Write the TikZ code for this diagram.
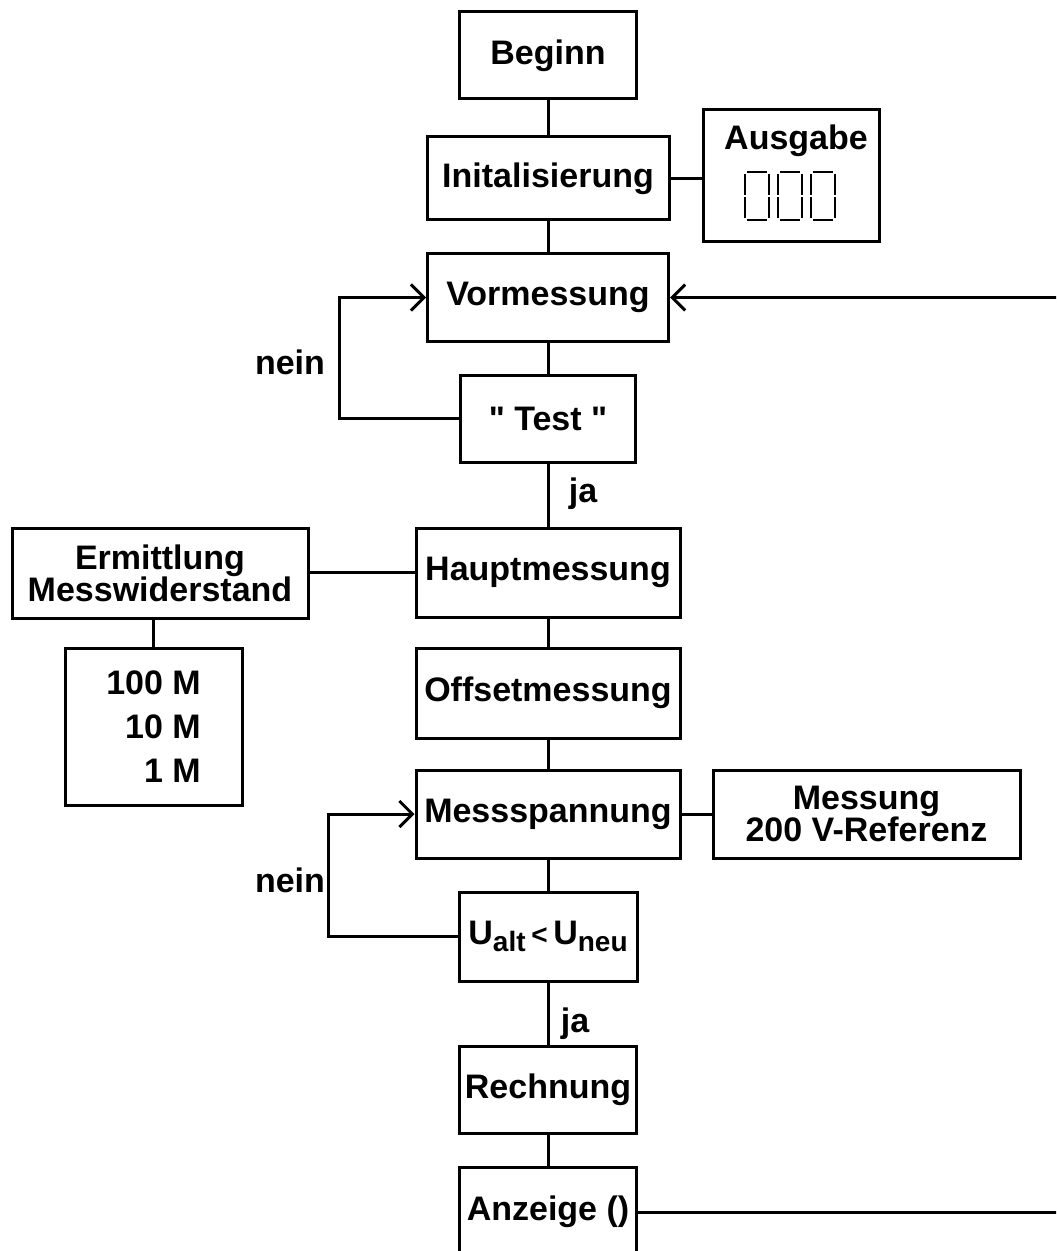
\documentclass[tikz,border=0pt]{standalone}
\usepackage{fontspec}
\setmainfont{Liberation Sans}
\usetikzlibrary{arrows.meta}

\newcommand{\subtxt}[1]{\raisebox{-0.4ex}{\fontsize{14}{14}\selectfont #1}}

\begin{document}
\begin{tikzpicture}[x=0.5pt,y=-0.5pt,
    blk/.style={draw, line width=1.5pt, inner sep=0pt, align=center,
        font=\bfseries\fontsize{17}{16}\selectfont},
    lbl/.style={inner sep=0pt, font=\bfseries\fontsize{17}{16}\selectfont},
    conn/.style={line width=1.5pt},
    arr/.style={line width=1.5pt, -{Straight Barb[length=6.5pt,width=13pt]}},
    seg/.style={line width=1pt}]

    \clip (0,0) rectangle (1056,1251);

    % Draw main chain
    \node[blk, minimum width=88.5pt, minimum height=43.5pt] (beginn) at (548,55.5) {Beginn};
    \node[blk, minimum width=121pt, minimum height=41.5pt] (init) at (548,178.5) {Initalisierung};
    \node[blk, minimum width=120.5pt, minimum height=43.5pt] (vor) at (548,297.5) {Vormessung};
    \node[blk, minimum width=87.5pt, minimum height=43.5pt] (test) at (548,418.5) {\textquotedbl{} Test \textquotedbl};
    \node[blk, minimum width=132pt, minimum height=44.5pt] (haupt) at (548,572.5) {Hauptmessung};
    \node[blk, minimum width=132pt, minimum height=45pt] (offset) at (548,693) {Offsetmessung};
    \node[blk, minimum width=132pt, minimum height=44pt] (messsp) at (548,814) {Messspannung};
    \node[blk, minimum width=89pt, minimum height=44.5pt] (vergl) at (548,936.5)
        {U\subtxt{alt}\,{\fontsize{14}{14}\selectfont<}\,U\subtxt{neu}};
    \node[blk, minimum width=88.5pt, minimum height=43.5pt] (rech) at (548,1089.5) {Rechnung};
    \node[blk, minimum width=88.5pt, minimum height=45pt] (anz) at (548,1212) {Anzeige ()};

    % Draw side boxes
    \node[blk, minimum width=88pt, minimum height=66pt] (ausgabe) at (791,176) {};
    \node[lbl] (ausgabetxt) at (796,141) {Ausgabe};
    \node[blk, minimum width=148pt, minimum height=45pt] (ermitt) at (160,573) {Ermittlung\\Messwiderstand};
    \node[blk, minimum width=88.5pt, minimum height=78.5pt, align=right,
        font=\bfseries\fontsize{17}{22}\selectfont] (res) at (153.5,726.5) {100 M\\10 M\\1 M};
    \node[blk, minimum width=153.5pt, minimum height=44pt] (ref) at (866.5,814) {Messung\\200 V-Referenz};

    % Display digits
    \foreach \dx in {745,778,811} {
        \draw[seg] (\dx+2,172) -- (\dx+22,172);
        \draw[seg] (\dx+2,220) -- (\dx+22,220);
        \draw[seg] (\dx,174) -- (\dx,195);
        \draw[seg] (\dx,197) -- (\dx,218);
        \draw[seg] (\dx+24,174) -- (\dx+24,195);
        \draw[seg] (\dx+24,197) -- (\dx+24,218);
    }

    % Labels
    \node[lbl] (nein1) at (290,362) {nein};
    \node[lbl] (nein2) at (290,880) {nein};
    \node[lbl] (ja1) at (583,494) {ja};
    \node[lbl] (ja2) at (575,1024) {ja};

    % Draw connectors
    \draw[conn] (beginn) -- (init);
    \draw[conn] (init) -- (vor);
    \draw[conn] (vor) -- (test);
    \draw[conn] (test) -- (haupt);
    \draw[conn] (haupt) -- (offset);
    \draw[conn] (offset) -- (messsp);
    \draw[conn] (messsp) -- (vergl);
    \draw[conn] (vergl) -- (rech);
    \draw[conn] (rech) -- (anz);
    \draw[conn] (init.east) -- (init.east -| ausgabe.west);
    \draw[conn] (haupt.west) -- (haupt.west -| ermitt.east);
    \draw[conn] (res.north) -- (res.north |- ermitt.south);
    \draw[conn] (messsp.east) -- (messsp.east -| ref.west);

    % Loops back
    \draw[arr] (test.west) -- ++(-120,0) |- (vor.west);
    \draw[arr] (vergl.west) -- ++(-129,0) |- (messsp.west);

    % Return line on the right
    \coordinate (rin) at (1060,297.5);
    \coordinate (rout) at (1060,1212);
    \draw[arr] (rin) -- (vor.east);
    \draw[conn] (anz.east) -- (rout);
\end{tikzpicture}
\end{document}
